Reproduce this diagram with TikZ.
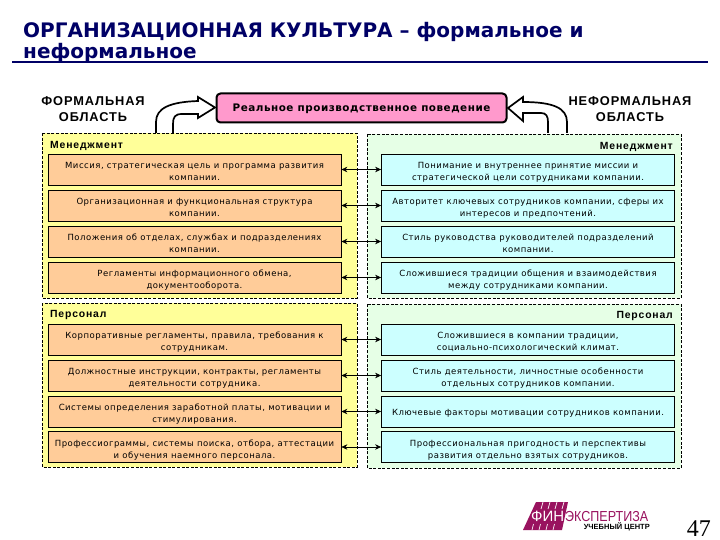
\documentclass[tikz,border=0pt]{standalone}
\usepackage{fontspec}
\setmainfont{DejaVu Sans}
\newfontfamily\bodyf[LetterSpace=6]{DejaVu Sans}
\newfontfamily\arialf{Liberation Sans}
\newfontfamily\arials[LetterSpace=7]{Liberation Sans}
\newfontfamily\sectf[LetterSpace=8]{Liberation Sans}
\newfontfamily\realf[LetterSpace=5]{DejaVu Sans}
\newfontfamily\timesf{Liberation Serif}
\usetikzlibrary{arrows.meta}
\definecolor{navyt}{HTML}{000066}
\definecolor{panely}{HTML}{FFFF99}
\definecolor{panelg}{HTML}{E6FFE6}
\definecolor{boxo}{HTML}{FFCC99}
\definecolor{boxc}{HTML}{CCFFFF}
\definecolor{boxp}{HTML}{FF99CC}
\definecolor{logop}{HTML}{99135F}
\tikzset{
  x=1pt,y=-1pt,
  panel/.style={draw=black,line width=0.7pt,dash pattern=on 3pt off 1.6pt},
  lbox/.style={draw=black,line width=0.8pt,fill=boxo,minimum width=293pt,minimum height=31pt,inner sep=0pt,align=center,text height=22pt,text depth=0pt,font=\bodyf\fontsize{8.5}{12}\selectfont},
  rbox/.style={lbox,fill=boxc},
  link/.style={{Stealth[length=6pt,width=5.5pt]}-{Stealth[length=6pt,width=5.5pt]},line width=0.6pt},
  head/.style={font=\arials\bfseries\fontsize{12.8}{16}\selectfont,align=center,inner sep=0pt},
  sect/.style={font=\sectf\bfseries\fontsize{10.4}{12}\selectfont,inner sep=0pt},
  bigarrow/.style={draw=black,fill=white,line width=1.7pt,line join=miter},
  titlet/.style={anchor=base west,inner sep=0pt,text=navyt,font=\bfseries\fontsize{20}{24}\selectfont}
}
\begin{document}
\begin{tikzpicture}
\useasboundingbox (0,0) rectangle (720,540);
\fill[white] (0,0) rectangle (720,540);
% title
\node[titlet] (t1) at (23,38) {ОРГАНИЗАЦИОННАЯ КУЛЬТУРА – формальное и};
\node[titlet] (t2) at (23,59) {неформальное};
\draw[navyt,line width=1.4pt] (12,62) -- (708,62);
% panels
\draw[panel,fill=panely] (42,133) rectangle (357,298);
\draw[panel,fill=panely] (42,303) rectangle (357,467);
\draw[panel,fill=panelg] (367,134) rectangle (681,298);
\draw[panel,fill=panelg] (367,304) rectangle (681,468);
% big arrows
\draw[bigarrow] (156,133) -- (156,122) .. controls (156,108) and (170,102) .. (198,101) -- (198,97) -- (215,107.5) -- (198,118) -- (198,114) -- (182,114) .. controls (175,114) and (173,117) .. (173,124) -- (173,133);
\draw[bigarrow] (567,133) -- (567,122) .. controls (567,108) and (553,102) .. (523,102) -- (523,97) -- (508,108) -- (523,121) -- (523,113) -- (541,113) .. controls (546,113) and (548,116) .. (548,122) -- (548,133);
% central box
\node[draw=black,line width=2pt,rounded corners=4pt,fill=boxp,minimum width=290pt,minimum height=29pt,inner sep=0pt,text height=8pt,text depth=0pt,font=\realf\bfseries\fontsize{10.4}{12}\selectfont] (real) at (361.5,108) {Реальное производственное поведение};
\node[head] (hl) at (93,109.5) {ФОРМАЛЬНАЯ\\ОБЛАСТЬ};
\node[head] (hr) at (630,109) {НЕФОРМАЛЬНАЯ\\ОБЛАСТЬ};
% section labels
\node[sect,anchor=west] (s1) at (50,145.5) {Менеджмент};
\node[sect,anchor=east] (s2) at (673,146.5) {Менеджмент};
\node[sect,anchor=west] (s3) at (50,315) {Персонал};
\node[sect,anchor=east] (s4) at (673,316) {Персонал};
% left boxes
\node[lbox] (l1) at (194.5,169.5) {Миссия, стратегическая цель и программа развития\\компании.};
\node[lbox] (l2) at (194.5,205.5) {Организационная и функциональная структура\\компании.};
\node[lbox] (l3) at (194.5,241.5) {Положения об отделах, службах и подразделениях\\компании.};
\node[lbox] (l4) at (194.5,277.5) {Регламенты информационного обмена,\\документооборота.};
\node[lbox] (l5) at (194.5,339.5) {Корпоративные регламенты, правила, требования к\\сотрудникам.};
\node[lbox] (l6) at (194.5,375.5) {Должностные инструкции, контракты, регламенты\\деятельности сотрудника.};
\node[lbox] (l7) at (194.5,411.5) {Системы определения заработной платы, мотивации и\\стимулирования.};
\node[lbox] (l8) at (194.5,447) {Профессиограммы, системы поиска, отбора, аттестации\\и обучения наемного персонала.};
% right boxes
\node[rbox] (r1) at (528,169.5) {Понимание и внутреннее принятие миссии и\\стратегической цели сотрудниками компании.};
\node[rbox] (r2) at (528,205.5) {Авторитет ключевых сотрудников компании, сферы их\\интересов и предпочтений.};
\node[rbox] (r3) at (528,241.5) {Стиль руководства руководителей подразделений\\компании.};
\node[rbox] (r4) at (528,277.5) {Сложившиеся традиции общения и взаимодействия\\между сотрудниками компании.};
\node[rbox] (r5) at (528,339.5) {Сложившиеся в компании традиции,\\социально-психологический климат.};
\node[rbox] (r6) at (528,375.5) {Стиль деятельности, личностные особенности\\отдельных сотрудников компании.};
\node[rbox,text height=8pt] (r7) at (528,411.5) {Ключевые факторы мотивации сотрудников компании.};
\node[rbox] (r8) at (528,447) {Профессиональная пригодность и перспективы\\развития отдельно взятых сотрудников.};
% connectors
\foreach \i in {1,...,8} {\draw[link] (l\i) -- (r\i);}
% logo
\fill[logop] (536,502) -- (568,502) -- (562,530) -- (523,530) -- cycle;
\foreach \k in {0,1,2,3} {\draw[white,line width=0.7pt] (543+\k*7,502) -- (541+\k*7,509);
  \draw[white,line width=0.7pt] (533.5+\k*7,524) -- (532+\k*7,530);}
\node[anchor=base west,inner sep=0pt,text=white,font=\arialf\fontsize{15}{15}\selectfont] (lg1) at (531,521) {ФИН};
\node[anchor=base west,inner sep=0pt,text=logop,xscale=0.865,font=\arialf\fontsize{14.5}{15}\selectfont] (lg2) at (565,521) {ЭКСПЕРТИЗА};
\node[anchor=base east,inner sep=0pt,text=black,font=\arialf\bfseries\fontsize{7.5}{8}\selectfont] (lg3) at (650,529.5) {УЧЕБНЫЙ ЦЕНТР};
\node[anchor=base east,inner sep=0pt,font=\timesf\fontsize{24}{26}\selectfont] (pg) at (711,536) {47};
\end{tikzpicture}
\end{document}
